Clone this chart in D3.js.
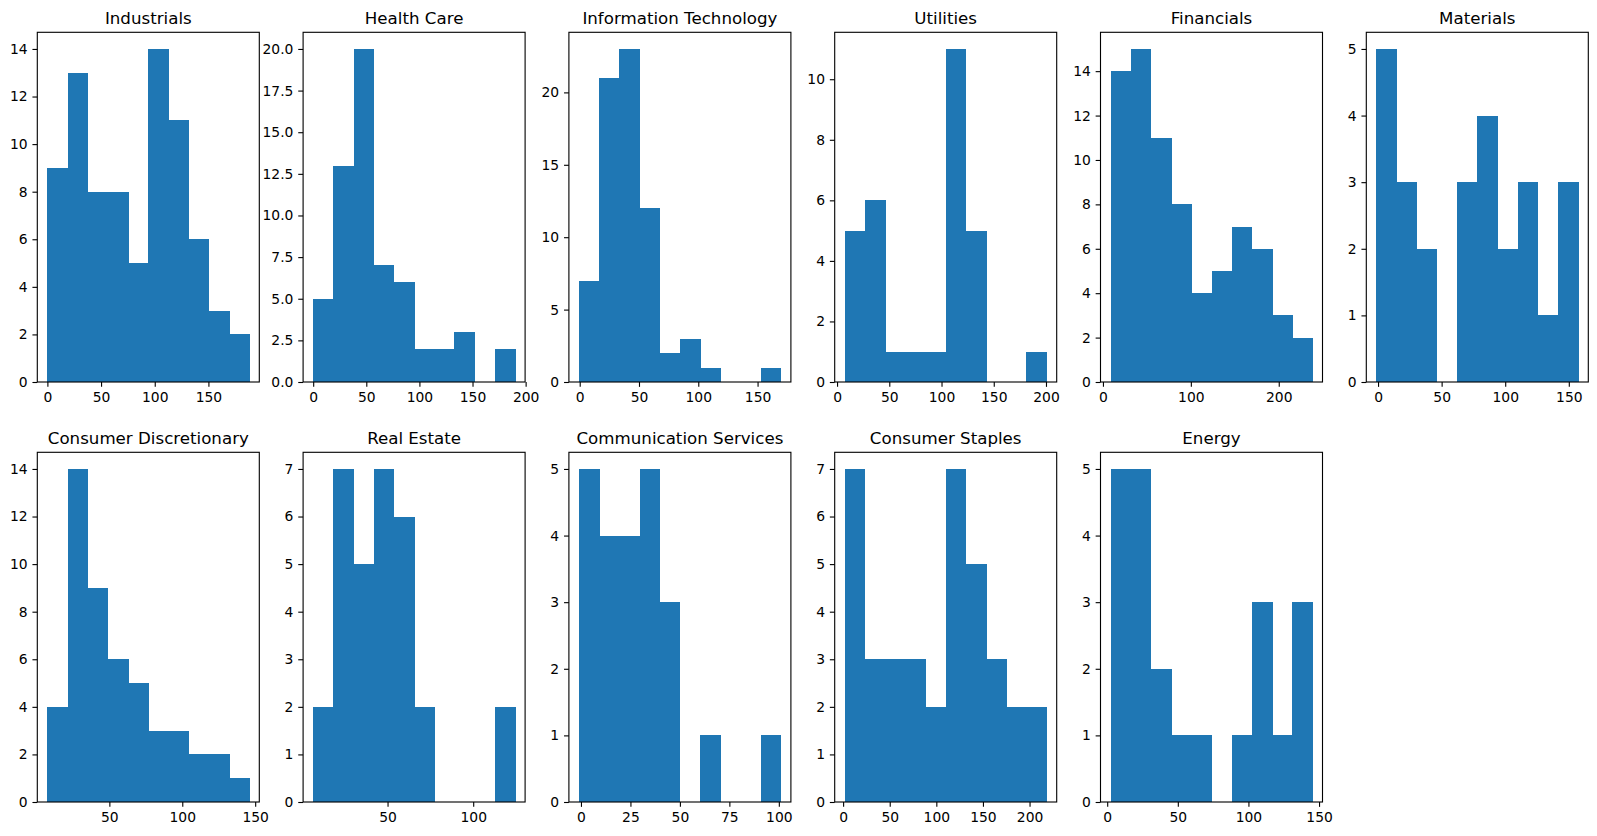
<!DOCTYPE html>
<html>
<head>
<meta charset="utf-8">
<script src="https://cdn.jsdelivr.net/npm/d3@7"></script>
<style>
  body { margin: 0; background: #fff; }
  text { font-family: "DejaVu Sans", sans-serif; fill: #000; }
</style>
</head>
<body>
<div id="chart"></div>
<script>
const WIDTH = 1597;
const HEIGHT = 836;

const SECTORS = [
  "Industrials", "Health Care", "Information Technology", "Utilities", "Financials", "Materials",
  "Consumer Discretionary", "Real Estate", "Communication Services", "Consumer Staples", "Energy"
];

// counts per bin (10 bins each)
const COUNTS = [
  [9, 13, 8, 8, 5, 14, 11, 6, 3, 2],
  [5, 13, 20, 7, 6, 2, 2, 3, 0, 2],
  [7, 21, 23, 12, 2, 3, 1, 0, 0, 1],
  [5, 6, 1, 1, 1, 11, 5, 0, 0, 1],
  [14, 15, 11, 8, 4, 5, 7, 6, 3, 2],
  [5, 3, 2, 0, 3, 4, 2, 3, 1, 3],
  [4, 14, 9, 6, 5, 3, 3, 2, 2, 1],
  [2, 7, 5, 7, 6, 2, 0, 0, 0, 2],
  [5, 4, 4, 5, 3, 0, 1, 0, 0, 1],
  [7, 3, 3, 3, 2, 7, 5, 3, 2, 2],
  [5, 5, 2, 1, 1, 0, 1, 3, 1, 3]
];

// smallest and largest value in each sector (outer bin edges)
const DATA_MIN = [0, 0, -0.6, 7.4, 8.7, -1.3, 7.5, 6.6, -1.0, 1.8, 2.4];
const DATA_MAX = [188, 190, 169.6, 200.6, 238.3, 157.4, 145.9, 124.4, 101, 218.3, 145.3];

const X_TICKS = [
  [0, 50, 100, 150],
  [0, 50, 100, 150, 200],
  [0, 50, 100, 150],
  [0, 50, 100, 150, 200],
  [0, 100, 200],
  [0, 50, 100, 150],
  [50, 100, 150],
  [50, 100],
  [0, 25, 50, 75, 100],
  [0, 50, 100, 150, 200],
  [0, 50, 100, 150]
];

const Y_TICKS = [
  [0, 2, 4, 6, 8, 10, 12, 14],
  [0, 2.5, 5, 7.5, 10, 12.5, 15, 17.5, 20],
  [0, 5, 10, 15, 20],
  [0, 2, 4, 6, 8, 10],
  [0, 2, 4, 6, 8, 10, 12, 14],
  [0, 1, 2, 3, 4, 5],
  [0, 2, 4, 6, 8, 10, 12, 14],
  [0, 1, 2, 3, 4, 5, 6, 7],
  [0, 1, 2, 3, 4, 5],
  [0, 1, 2, 3, 4, 5, 6, 7],
  [0, 1, 2, 3, 4, 5]
];

const N_COLS = 6;
const LEFT0 = 37.3;
const COL_STEP = 265.8;
const AX_W = 222;
const ROW_TOPS = [32.3, 452.3];
const AX_H = 349.7;

const BLUE = "#1f77b4";
const TICK = 4.86;
const FONT = 13.89;

const svg = d3.select("#chart").append("svg")
  .attr("width", WIDTH).attr("height", HEIGHT);

const drawPanel = i => {
  const col = i % N_COLS;
  const row = Math.floor(i / N_COLS);
  const left = LEFT0 + col * COL_STEP;
  const top = ROW_TOPS[row];

  const lo = DATA_MIN[i], hi = DATA_MAX[i];
  const span = hi - lo;
  const binW = span / COUNTS[i].length;
  const bins = COUNTS[i].map((c, k) => ({ x0: lo + k * binW, x1: lo + (k + 1) * binW, n: c }));

  const x = d3.scaleLinear()
    .domain([lo - 0.05 * span, hi + 0.05 * span])
    .range([0, AX_W]);
  const y = d3.scaleLinear()
    .domain([0, d3.max(COUNTS[i]) * 1.05])
    .range([AX_H, 0]);

  const g = svg.append("g").attr("transform", `translate(${left},${top})`);

  g.selectAll("rect.bar").data(bins.filter(b => b.n > 0)).enter()
    .append("rect")
    .attr("class", "bar")
    .attr("fill", BLUE)
    .attr("shape-rendering", "crispEdges")
    .attr("x", d => x(d.x0))
    .attr("width", d => x(d.x1) - x(d.x0) + 0.5)
    .attr("y", d => y(d.n))
    .attr("height", d => y(0) - y(d.n));

  const isInt = Y_TICKS[i].every(v => Number.isInteger(v));
  const yAxis = d3.axisLeft(y)
    .tickValues(Y_TICKS[i])
    .tickFormat(isInt ? d3.format("d") : d3.format(".1f"))
    .tickSize(TICK).tickPadding(4.86);
  const xAxis = d3.axisBottom(x)
    .tickValues(X_TICKS[i])
    .tickFormat(d3.format("d"))
    .tickSize(TICK).tickPadding(4.86);

  const ya = g.append("g").call(yAxis);
  const xa = g.append("g").attr("transform", `translate(0,${AX_H})`).call(xAxis);
  [ya, xa].forEach(a => {
    a.select(".domain").remove();
    a.selectAll("line").attr("stroke", "#000").attr("stroke-width", 1.11);
    a.selectAll("text").attr("font-size", FONT).attr("fill", "#000")
      .attr("font-family", "DejaVu Sans, sans-serif");
  });

  // frame
  g.append("rect")
    .attr("x", 0).attr("y", 0)
    .attr("width", AX_W).attr("height", AX_H)
    .attr("fill", "none")
    .attr("stroke", "#000")
    .attr("stroke-width", 1.11);

  g.append("text")
    .attr("x", AX_W / 2)
    .attr("y", -8.33)
    .attr("text-anchor", "middle")
    .attr("font-size", 16.67)
    .text(SECTORS[i]);
};

SECTORS.forEach((s, i) => drawPanel(i));
</script>
</body>
</html>
